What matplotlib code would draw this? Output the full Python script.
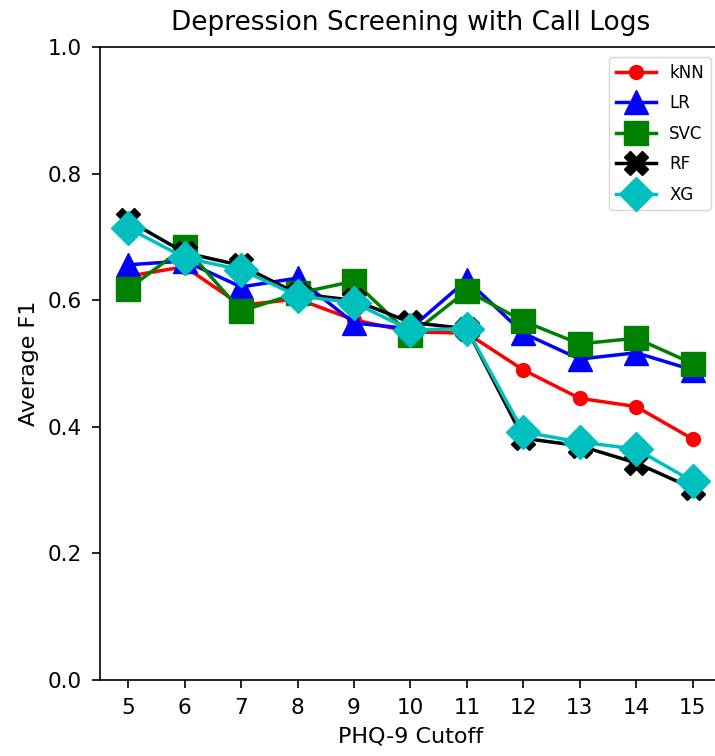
import matplotlib
matplotlib.use("Agg")
import matplotlib.pyplot as plt

cutoffs = [5, 6, 7, 8, 9, 10, 11, 12, 13, 14, 15]
knn = [0.638, 0.653, 0.592, 0.602, 0.569, 0.55, 0.548, 0.49, 0.445, 0.432, 0.381]
lr = [0.656, 0.662, 0.621, 0.635, 0.564, 0.555, 0.632, 0.548, 0.507, 0.517, 0.49]
svc = [0.618, 0.684, 0.583, 0.611, 0.63, 0.545, 0.615, 0.567, 0.531, 0.54, 0.50]
rf = [0.726, 0.675, 0.655, 0.61, 0.6, 0.565, 0.555, 0.382, 0.37, 0.343, 0.303]
xg = [0.714, 0.667, 0.648, 0.607, 0.596, 0.553, 0.555, 0.392, 0.376, 0.365, 0.314]

fig = plt.figure(figsize=(7.15, 7.56), dpi=100)
ax = fig.add_axes([0.14, 0.1005, 0.868, 0.8373])

ax.plot(cutoffs, knn, "r-o", lw=2.5, ms=10, label="kNN")
ax.plot(cutoffs, lr, "b-^", lw=2.5, ms=17, label="LR")
ax.plot(cutoffs, svc, "g-s", lw=2.5, ms=17, label="SVC")
ax.plot(cutoffs, rf, "k-X", lw=2.5, ms=17, label="RF")
ax.plot(cutoffs, xg, "c-D", lw=2.5, ms=17, label="XG")

ax.set_ylim(0, 1.0)
ax.set_xticks(cutoffs)
ax.tick_params(labelsize=15.5, length=6, width=1.2, pad=7)
for s in ax.spines.values():
    s.set_linewidth(1.2)

ax.set_title("Depression Screening with Call Logs", fontsize=19, pad=12)
ax.set_xlabel("PHQ-9 Cutoff", fontsize=16, labelpad=6)
ax.set_ylabel("Average F1", fontsize=16, labelpad=6)
ax.legend(loc="upper right", fontsize=12, labelspacing=0.75, handlelength=2.4,
          borderaxespad=0.6)

fig.savefig("out.png", dpi=100)
